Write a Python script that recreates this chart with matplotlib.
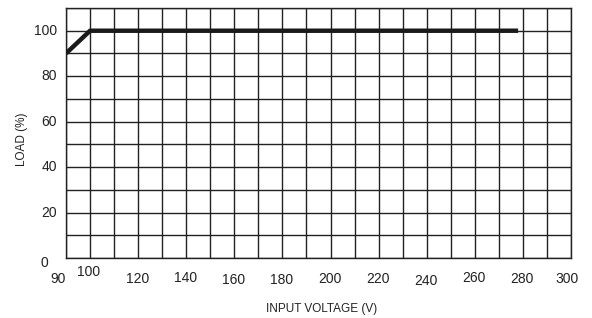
import matplotlib
matplotlib.use("Agg")
import matplotlib.pyplot as plt
from matplotlib.transforms import offset_copy

voltage = [90, 100, 278]
load = [90, 100, 100]
xticks = [90, 100, 120, 140, 160, 180, 200, 220, 240, 260, 280, 300]
yticks = [0, 20, 40, 60, 80, 100]

plt.rcParams['font.family'] = ['Liberation Sans', 'DejaVu Sans']

fig = plt.figure(figsize=(5.92, 3.18), dpi=100)
ax = fig.add_axes([66/592, 1-258/318, (571-66)/592, 250/318])
ax.set_xlim(90, 300)
ax.set_ylim(0, 110)

for v in range(90, 301, 10):
    ax.axvline(v, color='#222222', lw=1.0, zorder=1)
for v in range(0, 111, 10):
    ax.axhline(v, color='#222222', lw=1.0, zorder=1)

ax.plot(voltage, load, color='#1a1a1a', lw=3.2, solid_capstyle='butt', zorder=3)

for s in ax.spines.values():
    s.set_color('#222222')
    s.set_linewidth(1.0)

ax.set_xticks([])
ax.set_yticks([])

# y tick labels
for y in yticks:
    if y == 0:
        ax.text(-0.026, y, '0', transform=offset_copy(ax.get_yaxis_transform(), fig=fig, x=-5, y=-5, units='dots'),
                ha='right', va='center', fontsize=10, color='#222222')
    else:
        ax.text(-0.018, y, str(y), transform=ax.get_yaxis_transform(),
                ha='right', va='center', fontsize=10, color='#222222')

# x tick labels (staggered as in the reference)
dy = {90: 0, 100: 7, 120: 0, 140: 1, 160: -1, 180: -1, 200: 0, 220: 0, 240: -2, 260: 1, 280: 0, 300: 0}
dx = {90: -8, 300: -4}
for x in xticks:
    tr = offset_copy(ax.get_xaxis_transform(), fig=fig, x=dx.get(x, -1), y=dy[x], units='dots')
    ax.text(x, -0.083, str(x), transform=tr, ha='center', va='center', fontsize=10, color='#222222')

fig.text(322/592, 1-309/318, 'INPUT VOLTAGE (V)', ha='center', va='center', fontsize=8.5, color='#222222')
fig.text(22/592, 1-139/318, 'LOAD (%)', ha='center', va='center', rotation=90, fontsize=8.5, color='#222222')

fig.savefig('out.png', dpi=100)
